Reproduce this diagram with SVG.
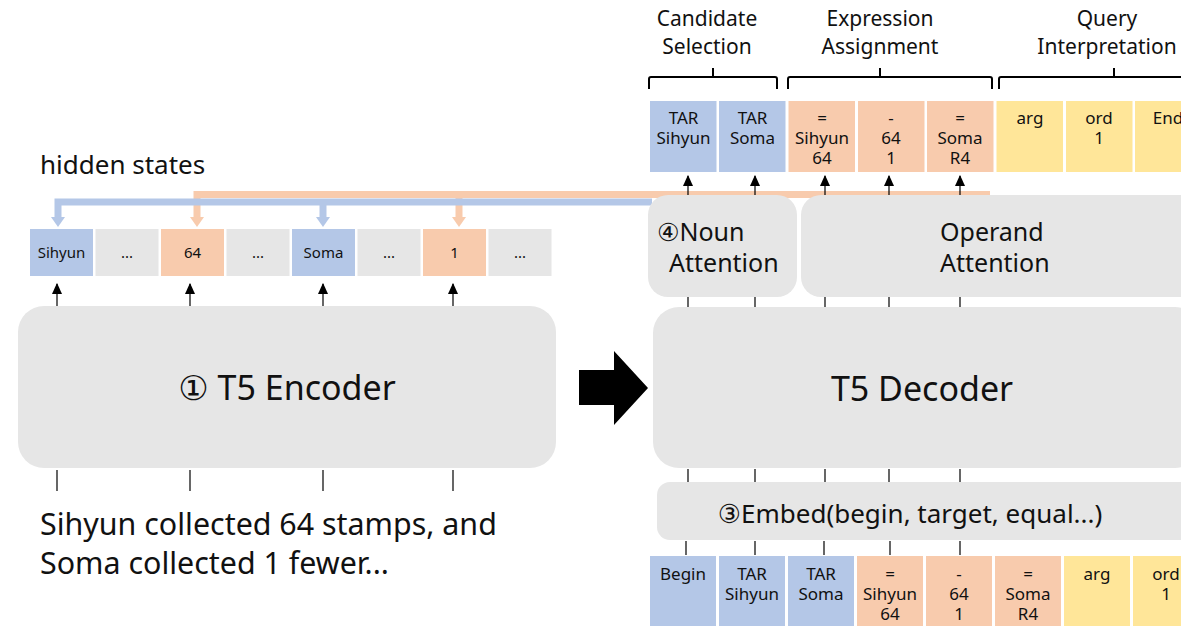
<svg xmlns="http://www.w3.org/2000/svg" width="1181" height="626" viewBox="0 0 1181 626">
<defs>
<style>
text{font-family:"Noto Sans","DejaVu Sans",sans-serif;fill:#111;}
.box{fill:#e6e6e6;}
.blue{fill:#b4c7e7;}
.org{fill:#f8cbad;}
.yel{fill:#ffe699;}
.gry{fill:#e6e6e6;}
.tk{font-size:17px;text-anchor:middle;}
.hs{font-size:15px;text-anchor:middle;}
.hd{font-size:21px;text-anchor:middle;}
.tick{stroke:#000;stroke-width:1.2;}
.brace{fill:none;stroke:#000;stroke-width:2;}
</style>
<marker id="ah" viewBox="0 0 10 10" refX="9" refY="5" markerWidth="11" markerHeight="10" markerUnits="userSpaceOnUse" orient="auto" preserveAspectRatio="none"><path d="M0,0 L10,5 L0,10 z" fill="#000"/></marker>
</defs>
<rect width="1181" height="626" fill="#fff"/>

<text x="40" y="174" font-size="26">hidden states</text>

<g id="hidden-row">
<rect class="blue" x="30" y="229" width="63" height="47"/><text class="hs" x="61.5" y="258">Sihyun</text>
<rect class="gry" x="95.5" y="229" width="63" height="47"/><text class="hs" x="127" y="258">...</text>
<rect class="org" x="161" y="229" width="63" height="47"/><text class="hs" x="192.5" y="258">64</text>
<rect class="gry" x="226.5" y="229" width="63" height="47"/><text class="hs" x="258" y="258">...</text>
<rect class="blue" x="292" y="229" width="63" height="47"/><text class="hs" x="323.5" y="258">Soma</text>
<rect class="gry" x="357.5" y="229" width="63" height="47"/><text class="hs" x="389" y="258">...</text>
<rect class="org" x="423" y="229" width="63" height="47"/><text class="hs" x="454.5" y="258">1</text>
<rect class="gry" x="488.5" y="229" width="63" height="47"/><text class="hs" x="520" y="258">...</text>
</g>

<g id="encoder">
<rect class="box" x="18" y="306" width="538" height="162" rx="26"/>
<text x="287" y="400" font-size="34" text-anchor="middle">① T5 Encoder</text>
</g>

<g id="input-text">
<text x="40" y="535" font-size="30.4">Sihyun collected 64 stamps, and</text>
<text x="40" y="574" font-size="30.4">Soma collected 1 fewer...</text>
</g>

<g id="big-arrow">
<polygon points="579,370 614,370 614,351 648,388 614,425 614,405 579,405" fill="#000"/>
</g>

<g id="headers">
<text class="hd" x="707" y="26">Candidate</text>
<text class="hd" x="707" y="54">Selection</text>
<text class="hd" x="880" y="26">Expression</text>
<text class="hd" x="880" y="54">Assignment</text>
<text class="hd" x="1107" y="26">Query</text>
<text class="hd" x="1107" y="54">Interpretation</text>
<path class="brace" d="M649,89 V79 Q649,77 651,77 H713 V68 M713,77 H775 Q777,77 777,79 V89"/>
<path class="brace" d="M788,89 V79 Q788,77 790,77 H880 V68 M880,77 H990 Q992,77 992,79 V89"/>
<path class="brace" d="M999,89 V79 Q999,77 1001,77 H1114 V68 M1114,77 H1190"/>
</g>

<g id="top-row">
<rect class="blue" x="650" y="101" width="66.5" height="71"/><text class="tk" x="683.5" y="124">TAR</text><text class="tk" x="683.5" y="144">Sihyun</text>
<rect class="blue" x="719" y="101" width="66.5" height="71"/><text class="tk" x="752.5" y="124">TAR</text><text class="tk" x="752.5" y="144">Soma</text>
<rect class="org" x="788.5" y="101" width="66.5" height="71"/><text class="tk" x="822" y="124">=</text><text class="tk" x="822" y="144">Sihyun</text><text class="tk" x="822" y="164">64</text>
<rect class="org" x="858" y="101" width="66.5" height="71"/><text class="tk" x="891" y="124">-</text><text class="tk" x="891" y="144">64</text><text class="tk" x="891" y="164">1</text>
<rect class="org" x="927" y="101" width="66.5" height="71"/><text class="tk" x="960" y="124">=</text><text class="tk" x="960" y="144">Soma</text><text class="tk" x="960" y="164">R4</text>
<rect class="yel" x="996.5" y="101" width="66.5" height="71"/><text class="tk" x="1030" y="124">arg</text>
<rect class="yel" x="1066" y="101" width="66.5" height="71"/><text class="tk" x="1099" y="124">ord</text><text class="tk" x="1099" y="144">1</text>
<rect class="yel" x="1135" y="101" width="66.5" height="71"/><text class="tk" x="1168" y="124">End</text>
</g>

<g id="connectors">
<path d="M990,194.5 H197 V218" fill="none" stroke="#f8cbad" stroke-width="7"/>
<path d="M459,194.5 V218" fill="none" stroke="#f8cbad" stroke-width="7"/>
<polygon points="190,217 204,217 197,227" fill="#f8cbad"/>
<polygon points="452,217 466,217 459,227" fill="#f8cbad"/>
<path d="M652,202 H58 V218" fill="none" stroke="#b4c7e7" stroke-width="7"/>
<path d="M323,202 V218" fill="none" stroke="#b4c7e7" stroke-width="7"/>
<polygon points="51,217 65,217 58,227" fill="#b4c7e7"/>
<polygon points="316,217 330,217 323,227" fill="#b4c7e7"/>

<g class="tick">
<line x1="57" y1="306" x2="57" y2="284" marker-end="url(#ah)"/>
<line x1="190" y1="306" x2="190" y2="284" marker-end="url(#ah)"/>
<line x1="323" y1="306" x2="323" y2="284" marker-end="url(#ah)"/>
<line x1="453" y1="306" x2="453" y2="284" marker-end="url(#ah)"/>
<line x1="57" y1="470" x2="57" y2="491"/>
<line x1="190" y1="470" x2="190" y2="491"/>
<line x1="323" y1="470" x2="323" y2="491"/>
<line x1="453" y1="470" x2="453" y2="491"/>

<line x1="688" y1="197" x2="688" y2="176" marker-end="url(#ah)"/>
<line x1="755" y1="197" x2="755" y2="176" marker-end="url(#ah)"/>
<line x1="825" y1="197" x2="825" y2="176" marker-end="url(#ah)"/>
<line x1="889" y1="197" x2="889" y2="176" marker-end="url(#ah)"/>
<line x1="960" y1="197" x2="960" y2="176" marker-end="url(#ah)"/>

<line x1="688" y1="297" x2="688" y2="307"/>
<line x1="755" y1="297" x2="755" y2="307"/>
<line x1="825" y1="297" x2="825" y2="307"/>
<line x1="889" y1="297" x2="889" y2="307"/>
<line x1="960" y1="297" x2="960" y2="307"/>

<line x1="688" y1="469" x2="688" y2="482"/>
<line x1="755" y1="469" x2="755" y2="482"/>
<line x1="825" y1="469" x2="825" y2="482"/>
<line x1="889" y1="469" x2="889" y2="482"/>
<line x1="960" y1="469" x2="960" y2="482"/>

<line x1="686" y1="541" x2="686" y2="555"/>
<line x1="755" y1="541" x2="755" y2="555"/>
<line x1="824" y1="541" x2="824" y2="555"/>
<line x1="890" y1="541" x2="890" y2="555"/>
<line x1="960" y1="541" x2="960" y2="555"/>
</g>
</g>

<g id="noun-attention">
<rect class="box" x="648" y="195" width="149" height="102" rx="20"/>
<text x="657" y="241" font-size="25">④Noun</text>
<text x="669" y="272" font-size="25">Attention</text>
</g>

<g id="operand-attention">
<rect class="box" x="801" y="195" width="400" height="102" rx="20"/>
<text x="940" y="241" font-size="25">Operand</text>
<text x="940" y="272" font-size="25">Attention</text>
</g>

<g id="decoder">
<rect class="box" x="653" y="307" width="548" height="161" rx="26"/>
<text x="922" y="401" font-size="34" text-anchor="middle">T5 Decoder</text>
</g>

<g id="embed">
<rect class="box" x="657" y="482" width="544" height="58" rx="13"/>
<text x="910" y="523" font-size="26" text-anchor="middle">③Embed(begin, target, equal...)</text>
</g>

<g id="bottom-row">
<rect class="blue" x="650" y="556" width="66" height="72"/><text class="tk" x="683" y="580">Begin</text>
<rect class="blue" x="719" y="556" width="66" height="72"/><text class="tk" x="752" y="580">TAR</text><text class="tk" x="752" y="600">Sihyun</text>
<rect class="blue" x="788" y="556" width="66" height="72"/><text class="tk" x="821" y="580">TAR</text><text class="tk" x="821" y="600">Soma</text>
<rect class="org" x="857" y="556" width="66" height="72"/><text class="tk" x="890" y="580">=</text><text class="tk" x="890" y="600">Sihyun</text><text class="tk" x="890" y="620">64</text>
<rect class="org" x="926" y="556" width="66" height="72"/><text class="tk" x="959" y="580">-</text><text class="tk" x="959" y="600">64</text><text class="tk" x="959" y="620">1</text>
<rect class="org" x="995" y="556" width="66" height="72"/><text class="tk" x="1028" y="580">=</text><text class="tk" x="1028" y="600">Soma</text><text class="tk" x="1028" y="620">R4</text>
<rect class="yel" x="1064" y="556" width="66" height="72"/><text class="tk" x="1097" y="580">arg</text>
<rect class="yel" x="1133" y="556" width="66" height="72"/><text class="tk" x="1166" y="580">ord</text><text class="tk" x="1166" y="600">1</text>
</g>
</svg>
